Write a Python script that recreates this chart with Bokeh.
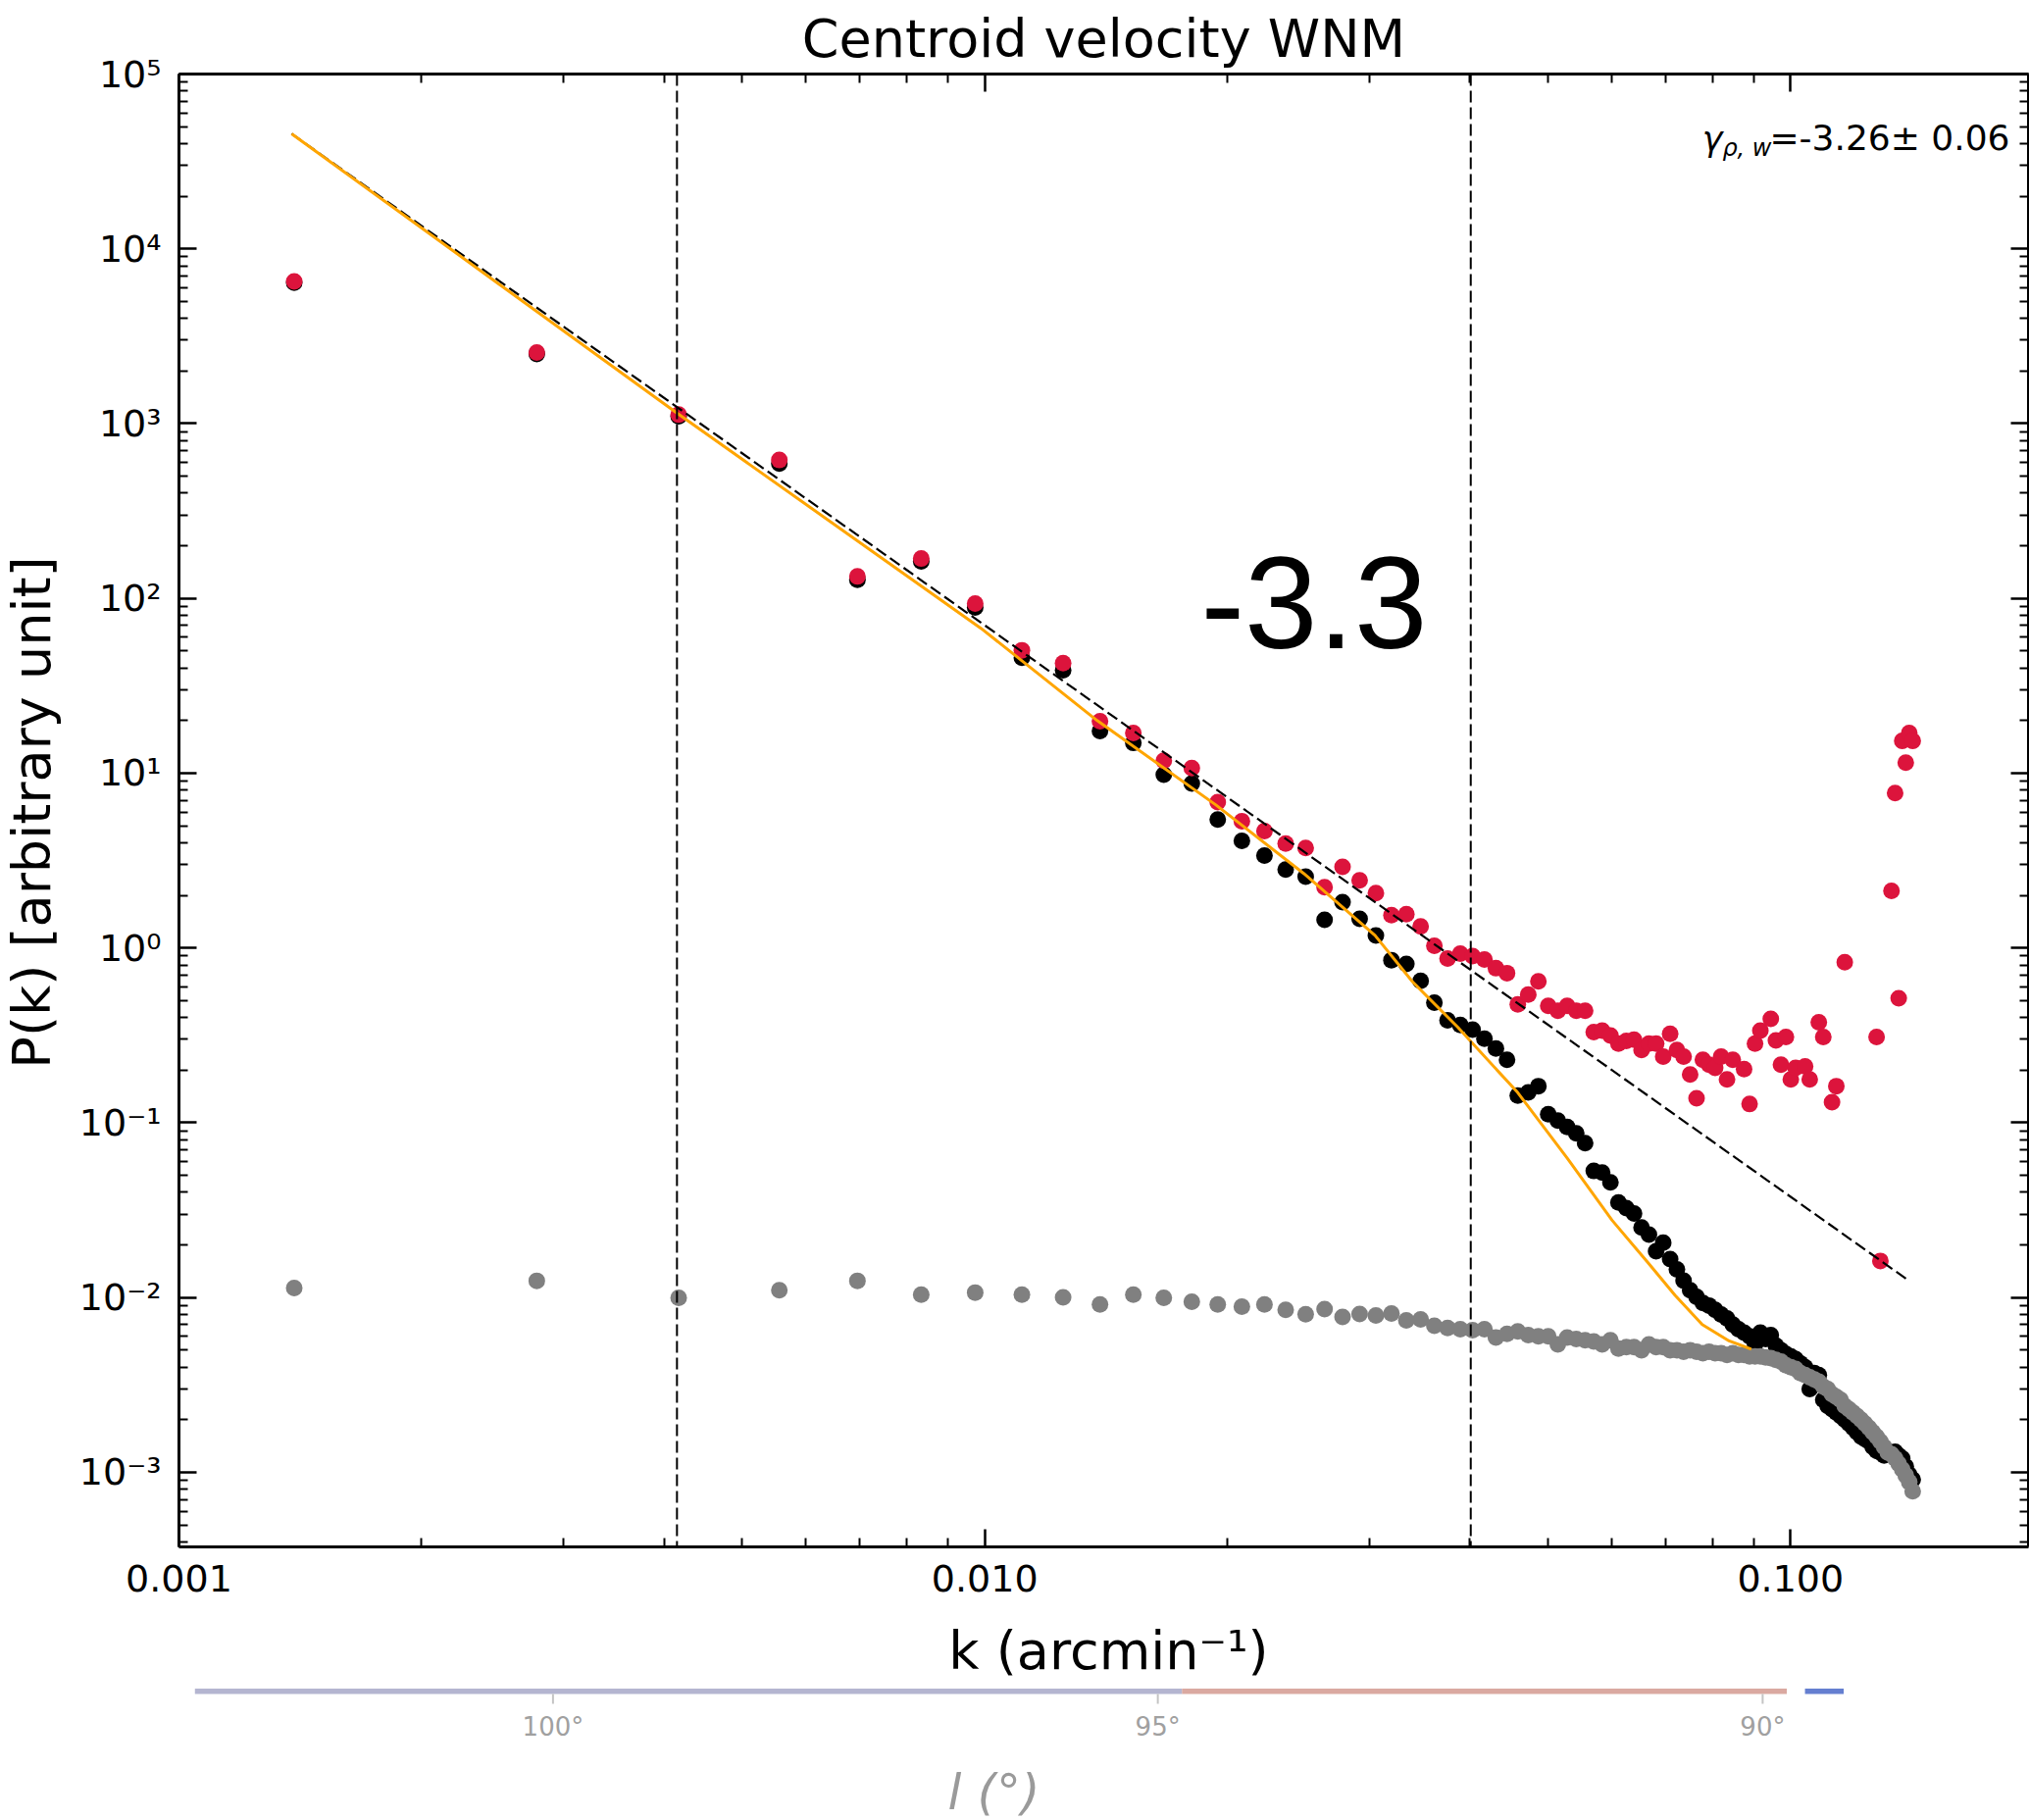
import math
from bokeh.plotting import figure
from bokeh.models import Range1d, LogAxis, FixedTicker, Label, Span, CustomJSTickFormatter
from bokeh.layouts import column, row
from bokeh.core.properties import value
from bokeh.embed import file_html
from bokeh.resources import INLINE

# ---------------- data ----------------
K = [0.00139, 0.00278, 0.00417, 0.00556, 0.00695, 0.00834, 0.00973, 0.01112, 0.01251, 0.0139,
     0.01529, 0.01668, 0.01807, 0.01946, 0.02085, 0.02224, 0.02363, 0.02502, 0.02641, 0.0278,
     0.02919, 0.03058, 0.03197, 0.03336, 0.03475, 0.03614, 0.03753, 0.03892, 0.04031, 0.0417,
     0.04309, 0.04448, 0.04587, 0.04726, 0.04865, 0.05004, 0.05143, 0.05282, 0.05421, 0.0556,
     0.05699, 0.05838, 0.05977, 0.06116, 0.06255, 0.06394, 0.06533, 0.06672, 0.06811, 0.0695,
     0.07089, 0.07228, 0.07367, 0.07506, 0.07645, 0.07784, 0.07923, 0.08062, 0.08201, 0.0834,
     0.08479, 0.08618, 0.08757, 0.08896, 0.09035, 0.09174, 0.09313, 0.09452, 0.09591, 0.0973,
     0.09869, 0.10008, 0.10147, 0.10286, 0.10425, 0.10564, 0.10703, 0.10842, 0.10981, 0.1112,
     0.11259, 0.11398, 0.11537, 0.11676, 0.11815, 0.11954, 0.12093, 0.12232, 0.12371, 0.1251,
     0.12649, 0.12788, 0.12927, 0.13066, 0.13205, 0.13344, 0.13483, 0.13622, 0.13761, 0.139,
     0.14039, 0.14178]

P_RED = [6500, 2550, 1125, 619, 133.5, 169, 93.3, 50.5, 42.6, 19.8,
         17.0, 11.8, 10.7, 6.82, 5.31, 4.67, 3.96, 3.73, 2.23, 2.91,
         2.44, 2.06, 1.54, 1.56, 1.33, 1.03, 0.871, 0.929, 0.90, 0.859,
         0.766, 0.718, 0.476, 0.542, 0.644, 0.467, 0.437, 0.467, 0.437, 0.437,
         0.330, 0.337, 0.316, 0.284, 0.294, 0.299, 0.261, 0.284, 0.284, 0.239,
         0.323, 0.261, 0.239, 0.189, 0.138, 0.229, 0.215, 0.206, 0.239, 0.177,
         0.229, None, 0.203, 0.128, 0.284, 0.337, None, 0.393, 0.296, 0.215,
         0.31, 0.177, 0.206, None, 0.21, 0.177, None, 0.376, 0.31, None,
         0.131, 0.162, None, 0.83, None, None, None, None, None, None,
         None, 0.31, 0.0162, None, None, 2.12, 7.7, 0.515, 15.3, 11.5,
         17.0, 15.3]

P_BLACK = [6400, 2500, 1100, 590, 128, 163, 88.6, 45.8, 38.8, 17.4,
           14.9, 9.8, 8.73, 5.43, 4.10, 3.38, 2.81, 2.56, 1.45, 1.83,
           1.47, 1.18, 0.852, 0.81, 0.648, 0.486, 0.386, 0.363, 0.341, 0.303,
           0.266, 0.229, 0.143, 0.149, 0.162, 0.112, 0.103, 0.0946, 0.0869, 0.0764,
           0.053, 0.0519, 0.0456, 0.035, 0.0325, 0.0303, 0.0252, 0.0229, 0.0184, 0.0206,
           0.0166, 0.0145, 0.0125, 0.0110, 0.0101, 0.0093, 0.0090, 0.0085, 0.0080, 0.0076,
           0.0070, 0.0066, 0.0063, 0.0060, 0.0054, 0.0063, 0.0058, 0.0061, 0.0053, 0.0050,
           0.00475, 0.0046, 0.00445, 0.0042, 0.0040, 0.0030, 0.0037, 0.0036, 0.0026, 0.0024,
           0.0023, 0.0022, 0.0021, 0.0020, 0.0019, 0.0018, 0.0017, 0.0016, 0.00155, 0.0015,
           0.0014, 0.00133, 0.0013, 0.00125, 0.0013, 0.00128, 0.00131, 0.00125, 0.0012, 0.00108,
           0.00097, 0.00091]

P_GRAY = [0.01133, 0.01247, 0.00996, 0.01101, 0.01247, 0.0104, 0.01068, 0.0104, 0.01004, 0.00914,
          0.0104, 0.00996, 0.00946, 0.00914, 0.00887, 0.00914, 0.0085, 0.00803, 0.0086, 0.00775,
          0.00805, 0.0079, 0.0081, 0.0074, 0.0075, 0.0069, 0.0067, 0.0066, 0.0065, 0.0066,
          0.0059, 0.0062, 0.0064, 0.0061, 0.0060, 0.0060, 0.0054, 0.0059, 0.0058, 0.0057,
          0.0056, 0.0054, 0.0057, 0.0051, 0.0052, 0.0052, 0.0050, 0.0054, 0.0052, 0.0052,
          0.0050, 0.0050, 0.0049, 0.0050, 0.0049, 0.0048, 0.0049, 0.0048, 0.0048, 0.0047,
          0.0048, 0.0047, 0.0047, 0.0046, 0.0046, 0.0046, 0.00455, 0.0045, 0.0044, 0.0043,
          0.0041, 0.0040, 0.0039, 0.0037, 0.0036, 0.0035, 0.0034, 0.0033, 0.0031, 0.0030,
          0.0028, 0.0027, 0.0026, 0.0024, 0.0023, 0.0022, 0.0021, 0.0020, 0.0019, 0.0018,
          0.0017, 0.0016, 0.0015, 0.0014, 0.0013, 0.00127, 0.0012, 0.00112, 0.00104, 0.00096,
          0.00088, 0.00078]

# straight power-law fit (dashed) : end points
FIT_K = [0.00138, 0.1402]
FIT_P = [45500, 0.0125]

# model curve (orange)
MODEL_K = [0.00138, 0.004134, 0.00989, 0.01379, 0.01934, 0.02488, 0.0305, 0.03396,
           0.03864, 0.04585, 0.05281, 0.06005, 0.06656, 0.07191, 0.0777, 0.0839, 0.0894]
MODEL_P = [45500, 1164, 67.5, 20.0, 6.6, 2.67, 1.18, 0.64,
           0.352, 0.149, 0.0629, 0.0277, 0.0158, 0.0103, 0.0070, 0.00565, 0.00507]

# fitting range limits (vertical dashed lines)
K_LIMITS = [0.00415, 0.0401]

X_TICKS = [0.001, 0.01, 0.1]
X_TICK_LABELS = ["0.001", "0.010", "0.100"]
X_MINOR = [0.002, 0.003, 0.004, 0.005, 0.006, 0.007, 0.008, 0.009,
           0.02, 0.03, 0.04, 0.05, 0.06, 0.07, 0.08, 0.09]
Y_TICKS = [0.001, 0.01, 0.1, 1, 10, 100, 1000, 10000, 100000]
Y_TICK_LABELS = ["10\u207b\u00b3", "10\u207b\u00b2", "10\u207b\u00b9", "10\u2070",
                 "10\u00b9", "10\u00b2", "10\u00b3", "10\u2074", "10\u2075"]
Y_MINOR = [m * 10.0 ** e for e in range(-4, 5) for m in range(2, 10)
           if 3.745e-4 < m * 10.0 ** e < 1e5]

TITLE = "Centroid velocity WNM"
X_LABEL = "k (arcmin\u207b\u00b9)"
Y_LABEL = "P(k) [arbitrary unit]"
SLOPE_TEXT = "-3.3"
GAMMA_MAIN = "\u03b3"
GAMMA_SUB = "\u03c1, w"
GAMMA_VALUE = "=-3.26\u00b1 0.06"

# remnant of the panel below (galactic longitude axis)
LON_TICKS = [100, 95, 90]
LON_TICK_LABELS = ["100\u00b0", "95\u00b0", "90\u00b0"]
LON_LABEL = "l (\u00b0)"
STRIP_EDGES = [102.96, 94.8, 89.8, 89.65, 89.33]
STRIP_COLORS = ["#a7a8c8", "#d39a90", "#ffffff", "#4a68c8"]

# ---------------- layout geometry (page pixels) ----------------
PAGE_W, PAGE_H = 2069, 1856
X_RANGE = (0.001, 0.1974)
Y_RANGE = (3.745e-4, 1.0e5)
FRAME_LEFT, FRAME_TOP, FRAME_W, FRAME_H = 182, 75, 1886, 1502
FRAME_BOTTOM = FRAME_TOP + FRAME_H
LEFT_STRIP_W = 70          # narrow panel holding the rotated y title
P_BOTTOM = 1652            # bottom edge of the main figure


def k_at(px):
    lo, hi = math.log10(X_RANGE[0]), math.log10(X_RANGE[1])
    return 10 ** (lo + (px - FRAME_LEFT) / FRAME_W * (hi - lo))


def p_at(py):
    lo, hi = math.log10(Y_RANGE[0]), math.log10(Y_RANGE[1])
    return 10 ** (hi - (py - FRAME_TOP) / FRAME_H * (hi - lo))


def lon_at(px):            # longitude scale of the remnant panel: 100 deg at x=563, 123.35 px/deg
    return 100.0 - (px - 563.4) / 123.35


FONT = "DejaVu Sans"

# ---------------- main figure ----------------
p = figure(x_axis_type="log", y_axis_type="log",
           x_range=Range1d(*X_RANGE), y_range=Range1d(*Y_RANGE),
           frame_width=FRAME_W, frame_height=FRAME_H,
           min_border_left=FRAME_LEFT - LEFT_STRIP_W, min_border_right=PAGE_W - FRAME_LEFT - FRAME_W,
           min_border_top=FRAME_TOP, min_border_bottom=P_BOTTOM - FRAME_BOTTOM,
           toolbar_location=None, output_backend="svg", title=TITLE)
p.xgrid.visible = False
p.ygrid.visible = False
p.outline_line_color = None
p.background_fill_color = "white"
p.border_fill_color = "white"

p.title.align = "center"
p.title.text_font = FONT
p.title.text_font_size = "54px"
p.title.text_font_style = "normal"
p.title.text_color = "black"
p.title.standoff = 9


def style_axis(ax, ticks, minor, labels=None):
    ax.ticker = FixedTicker(ticks=ticks, minor_ticks=minor)
    ax.axis_line_width = 3
    ax.axis_line_color = "black"
    ax.major_tick_in = 18
    ax.major_tick_out = 0
    ax.major_tick_line_width = 2.5
    ax.major_tick_line_color = "black"
    ax.minor_tick_in = 9
    ax.minor_tick_out = 0
    ax.minor_tick_line_width = 2
    ax.minor_tick_line_color = "black"
    if labels is None:
        ax.formatter = CustomJSTickFormatter(code="return '';")
        ax.major_label_text_font_size = "1px"
        ax.major_label_text_alpha = 0
        ax.major_label_standoff = 0
        ax.axis_label_standoff = 0
    else:
        ov = {}
        for t, lab in zip(ticks, labels):
            ov[t] = lab
        ax.major_label_overrides = ov
        ax.major_label_text_font = FONT
        ax.major_label_text_font_size = "38px"
        ax.major_label_text_color = "black"
        ax.major_label_standoff = 18


style_axis(p.xaxis[0], X_TICKS, X_MINOR, X_TICK_LABELS)
style_axis(p.yaxis[0], Y_TICKS, Y_MINOR, Y_TICK_LABELS)
top_ax = LogAxis()
style_axis(top_ax, X_TICKS, X_MINOR)
p.add_layout(top_ax, "above")
right_ax = LogAxis()
style_axis(right_ax, Y_TICKS, Y_MINOR)
p.add_layout(right_ax, "right")

# points
bk = [k for k, v in zip(K, P_BLACK) if v is not None]
bv = [v for v in P_BLACK if v is not None]
rk = [k for k, v in zip(K, P_RED) if v is not None]
rv = [v for v in P_RED if v is not None]
gk = [k for k, v in zip(K, P_GRAY) if v is not None]
gv = [v for v in P_GRAY if v is not None]
p.scatter(bk, bv, size=17, fill_color="black", line_color=None)
p.scatter(rk, rv, size=17, fill_color="#dc143c", line_color=None)
p.scatter(gk, gv, size=17, fill_color="#808080", line_color=None)

# vertical limits
for kl in K_LIMITS:
    p.add_layout(Span(location=kl, dimension="height", line_color="black",
                      line_width=2, line_dash="12 5"))

# fitted power law and model
p.line(FIT_K, FIT_P, line_color="black", line_width=2.2, line_dash="12 5")
p.line(MODEL_K, MODEL_P, line_color="#ffa500", line_width=3)


def add_text(px, py, text, size, font=FONT, style="normal", align="left"):
    p.add_layout(Label(x=k_at(px), y=p_at(py), text=text,
                       text_font=font, text_font_size=size, text_font_style=style,
                       text_color="black", text_baseline="middle", text_align=align))


add_text(1224, 614, SLOPE_TEXT, "134px", font="Liberation Sans")
add_text(2049, 140, GAMMA_VALUE, "36px", align="right")
add_text(1806, 150, GAMMA_SUB, "24px", style="italic", align="right")
add_text(1756, 141, GAMMA_MAIN, "35px", style="italic", align="right")

# ---------------- narrow left panel: rotated y title ----------------
a = figure(x_range=Range1d(0, LEFT_STRIP_W), y_range=Range1d(0, FRAME_H),
           frame_width=LEFT_STRIP_W, frame_height=FRAME_H,
           min_border_left=0, min_border_right=0,
           min_border_top=FRAME_TOP, min_border_bottom=PAGE_H - FRAME_BOTTOM,
           x_axis_location=None, y_axis_location=None,
           toolbar_location=None, output_backend="svg")
a.xgrid.visible = False
a.ygrid.visible = False
a.outline_line_color = None
a.background_fill_color = "white"
a.border_fill_color = "white"
a.text(x=[32], y=[FRAME_BOTTOM - 828], text=[Y_LABEL], angle=math.pi / 2,
       text_align="center", text_baseline="middle", text_color="black",
       text_font=value(FONT), text_font_size=value("54px"))

# ---------------- bottom panel: x title and the remnant longitude strip ----------------
q = figure(x_range=Range1d(lon_at(FRAME_LEFT), lon_at(FRAME_LEFT + FRAME_W)),
           y_range=Range1d(PAGE_H, P_BOTTOM),
           frame_width=FRAME_W, frame_height=PAGE_H - P_BOTTOM,
           min_border_left=FRAME_LEFT - LEFT_STRIP_W, min_border_right=PAGE_W - FRAME_LEFT - FRAME_W,
           min_border_top=0, min_border_bottom=0,
           x_axis_location=None, y_axis_location=None,
           toolbar_location=None, output_backend="svg")
q.xgrid.visible = False
q.ygrid.visible = False
q.outline_line_color = None
q.background_fill_color = "white"
q.border_fill_color = "white"

q.text(x=[lon_at(1130)], y=[1682.5], text=[X_LABEL], text_align="center",
       text_baseline="middle", text_color="black",
       text_font=value(FONT), text_font_size=value("54px"))
q.quad(left=STRIP_EDGES[:-1], right=STRIP_EDGES[1:], top=1721.5, bottom=1727,
       fill_color=STRIP_COLORS, line_color=None, fill_alpha=0.85)
q.segment(x0=LON_TICKS, y0=[1727] * len(LON_TICKS), x1=LON_TICKS, y1=[1737] * len(LON_TICKS),
          line_color="#c4c4c4", line_width=2)
q.text(x=LON_TICKS, y=[1760] * len(LON_TICKS), text=LON_TICK_LABELS, text_align="center",
       text_baseline="middle", text_color="#a0a0a0",
       text_font=value(FONT), text_font_size=value("26px"))
q.text(x=[lon_at(1013)], y=[1827], text=[LON_LABEL], text_align="center",
       text_baseline="middle", text_color="#9a9a9a", text_font_style="italic",
       text_font=value(FONT), text_font_size=value("50px"))

layout = row(a, column(p, q, spacing=0), spacing=0)
open("out.html", "w").write(file_html(layout, INLINE, TITLE))
